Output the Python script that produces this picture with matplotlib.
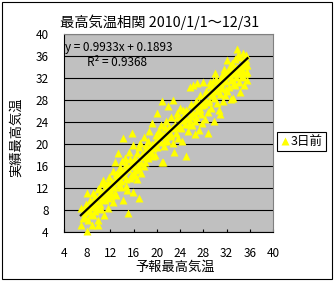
import numpy as np
import matplotlib
matplotlib.use("Agg")
import matplotlib.pyplot as plt
from matplotlib.patches import Rectangle

plt.rcParams["font.family"] = ["Noto Sans CJK JP", "DejaVu Sans"]

forecast = [
    7.0, 6.9, 7.3, 7.5, 7.8, 8.0, 8.1, 7.9, 8.3, 8.5, 8.8, 8.7, 9.0, 9.0, 9.2, 9.4, 9.9, 9.9, 9.6, 9.8,
    10.2, 10.5, 10.7, 10.9, 10.4, 10.8, 11.0, 11.2, 11.6, 11.6, 11.4, 11.8, 12.0, 12.2, 12.4, 12.5, 12.8, 12.6, 12.9,
    13.0, 13.3, 13.2, 13.4, 13.6, 13.8, 14.0, 14.1, 14.2, 14.3, 14.5, 14.6, 14.8, 14.9, 15.0, 15.2, 15.3, 15.5, 15.7, 15.9, 15.9, 15.8,
    16.1, 16.3, 16.5, 16.6, 16.9, 16.8, 17.0, 17.1, 17.3, 17.5, 17.7, 17.8, 18.0, 18.2, 18.4, 18.5, 18.7, 18.9,
    19.1, 19.2, 19.4, 19.7, 19.8, 20.0, 20.1, 20.3, 20.5, 20.8, 20.9, 20.7, 21.0, 21.1, 21.3, 21.5, 21.7, 21.9, 21.8,
    22.0, 22.3, 22.5, 22.8, 22.7, 23.0, 23.1, 23.3, 23.5, 23.7, 23.9, 24.0, 24.2, 24.4, 24.6, 24.8,
    25.0, 25.1, 25.3, 25.5, 25.7, 25.8, 26.0, 26.2, 26.3, 26.5, 26.7, 26.9, 26.8, 27.0, 27.2, 27.4, 27.6, 27.8,
    28.0, 28.1, 28.3, 28.5, 28.8, 28.8, 28.9, 29.1, 29.2, 29.4, 29.6, 29.8, 30.0, 30.1, 30.3, 30.5, 30.7, 30.9, 30.8,
    31.0, 31.2, 31.4, 31.5, 31.7, 31.9, 32.0, 32.1, 32.3, 32.5, 32.6, 32.8, 33.0, 33.1, 33.2, 33.4, 33.5, 33.7,
    33.8, 34.0, 34.1, 34.3, 34.4, 34.6, 34.7, 34.9, 34.9, 35.0, 35.2, 35.3, 35.5, 35.6, 35.4,
    7.6, 8.2, 9.1, 9.5, 10.0, 10.3, 10.6, 11.1, 11.5, 11.9, 12.3, 12.7, 13.1, 13.5, 13.9, 14.4, 14.7, 15.1,
    15.6, 16.0, 16.4, 16.9, 17.4, 17.9, 18.3, 18.8, 19.3, 19.6, 20.2, 20.6, 21.2, 21.6, 22.1, 22.6, 23.2,
    23.8, 24.3, 24.9, 25.4, 25.9, 26.4, 26.9, 27.3, 27.7, 28.2, 28.6, 29.0, 29.5, 29.9, 30.4, 30.6, 31.1,
    31.6, 32.2, 32.7, 33.3, 33.9, 34.5, 35.1, 35.5, 34.2, 33.6, 32.4, 31.3,
    29.3, 30.2, 31.8, 32.9, 33.2, 34.8, 35.3, 34.0, 33.0, 31.9, 30.9, 29.7, 28.4, 27.5, 26.6, 25.6, 24.5,
    23.4, 22.4, 21.4, 20.4, 19.0, 18.1, 17.2, 16.2, 15.4, 14.6, 13.7, 12.9, 12.1, 11.3, 10.1, 9.3, 8.6, 7.4,
]
observed = [
    5.3, 8.3, 6.5, 7.6, 9.0, 4.1, 6.2, 11.1, 7.9, 9.8, 5.3, 8.6, 11.1, 7.0, 9.5, 10.6, 6.2, 5.3, 8.3, 11.8,
    9.0, 12.9, 10.2, 7.1, 11.2, 13.5, 9.8, 12.0, 8.4, 12.9, 10.8, 14.0, 11.3, 13.0, 9.5, 15.0, 16.7, 12.2, 13.8,
    10.8, 18.3, 14.6, 12.6, 15.8, 13.2, 16.8, 21.1, 9.8, 14.4, 17.5, 12.4, 11.6, 15.6, 7.5, 18.6, 13.8, 16.4, 22.0, 11.3, 19.8, 14.6,
    17.2, 15.2, 18.4, 13.6, 10.2, 16.2, 19.4, 20.1, 14.8, 17.8, 21.2, 16.0, 16.7, 19.0, 20.6, 17.4, 22.4, 18.6,
    23.8, 20.0, 17.8, 18.0, 21.6, 25.6, 19.4, 22.6, 20.4, 16.7, 27.7, 23.4, 16.7, 21.8, 19.6, 24.2, 22.2, 26.8, 20.6,
    23.0, 21.4, 24.8, 28.0, 20.2, 18.6, 23.6, 22.0, 25.6, 21.0, 24.4, 26.6, 22.8, 20.6, 25.2, 23.6,
    17.8, 26.2, 22.4, 24.6, 30.4, 27.2, 23.4, 25.6, 30.7, 21.8, 27.8, 31.0, 24.8, 26.4, 22.6, 28.8, 25.4, 23.8,
    31.3, 27.2, 24.6, 29.6, 22.0, 25.7, 27.8, 30.6, 31.3, 26.6, 28.8, 24.2, 32.9, 29.8, 27.4, 31.0, 26.2, 25.4, 29.0,
    32.2, 30.2, 27.7, 33.6, 28.8, 31.4, 35.2, 29.6, 32.6, 30.4, 34.2, 28.2, 31.8, 28.3, 33.4, 35.4, 30.6, 32.2,
    37.3, 33.8, 31.2, 35.8, 29.4, 34.6, 32.4, 36.5, 32.2, 30.6, 34.2, 36.2, 33.0, 31.6, 35.2,
    6.8, 8.4, 8.9, 9.9, 10.6, 8.2, 10.0, 11.4, 10.2, 11.8, 12.4, 11.0, 13.2, 14.0, 12.2, 15.0, 13.6, 15.4,
    14.2, 16.0, 17.0, 15.4, 18.2, 17.6, 18.0, 19.4, 19.2, 20.4, 20.8, 21.6, 20.6, 21.4, 22.2, 22.8, 23.0,
    23.2, 24.4, 24.6, 25.8, 25.0, 26.8, 26.0, 27.6, 27.0, 28.4, 27.6, 29.2, 29.8, 28.4, 30.6, 29.6, 31.0,
    31.8, 32.4, 31.6, 33.0, 33.4, 34.0, 35.0, 34.4, 32.8, 34.0, 33.6, 32.4,
    30.8, 31.8, 33.0, 34.6, 31.0, 33.2, 32.8, 36.2, 32.8, 30.0, 31.6, 31.4, 29.2, 26.4, 24.2, 23.6, 26.2,
    24.8, 21.6, 23.0, 22.4, 18.4, 19.8, 16.6, 14.4, 17.2, 16.4, 15.0, 14.6, 10.6, 12.6, 12.0, 7.8, 7.2, 8.0,
]

# trend line from the chart
slope = 0.9933
intercept = 0.1893
ticks = [4, 8, 12, 16, 20, 24, 28, 32, 36, 40]

fig = plt.figure(figsize=(3.34, 2.81), dpi=100)
ax = fig.add_axes([64 / 334, 49 / 281, 209 / 334, 198.3 / 281])
ax.set_facecolor("#c0c0c0")

ax.plot(forecast, observed, ls="none", marker="^", ms=6.4, color="#ffff00",
        mec="none", label="3日前", clip_on=False, zorder=3)
xl = np.array([min(forecast), max(forecast)])
ax.plot(xl, slope * xl + intercept, color="black", lw=1.6, zorder=4)

ax.set_xlim(4, 40)
ax.set_ylim(4, 40)
ax.set_xticks(ticks)
ax.set_yticks(ticks)
ax.yaxis.grid(True, color="black", lw=0.8)
ax.set_axisbelow(True)
ax.tick_params(axis="x", direction="in", length=2.5, pad=11, labelsize=8.5)
ax.tick_params(axis="y", length=0, pad=11, labelsize=8.5)
for s in ["top", "right"]:
    ax.spines[s].set_color("#808080")
for s in ["left", "bottom"]:
    ax.spines[s].set_color("black")

ax.set_xlabel("予報最高気温", fontsize=9.5)
ax.xaxis.set_label_coords(0.531, -0.145)
ax.set_ylabel("実績最高気温", fontsize=9.5)
ax.yaxis.set_label_coords(-0.195, 0.479)

fig.text(159.5 / 334, 1 - 22 / 281, "最高気温相関 2010/1/1～12/31",
         ha="center", va="center", fontsize=10.3)
fig.text(65 / 334, 1 - 47 / 281, f"y = {slope}x + {intercept}",
         ha="left", va="center", fontsize=8.5)
fig.text(117 / 334, 1 - 62 / 281, "R² = 0.9368", ha="center", va="center", fontsize=8.5)

leg = ax.legend(loc="center", bbox_to_anchor=(301.5 / 334, 1 - 141.5 / 281),
                bbox_transform=fig.transFigure, fontsize=9, fancybox=False,
                handlelength=0.8, handletextpad=0.1, borderpad=0.25,
                borderaxespad=0, framealpha=1)
leg.get_frame().set_edgecolor("black")
leg.get_frame().set_linewidth(0.8)

fig.patches.append(Rectangle((1.5 / 334, 2.5 / 281), 330.5 / 334, 276.5 / 281,
                             transform=fig.transFigure, fill=False,
                             ec="black", lw=0.8))

fig.savefig("out.png", dpi=100)
